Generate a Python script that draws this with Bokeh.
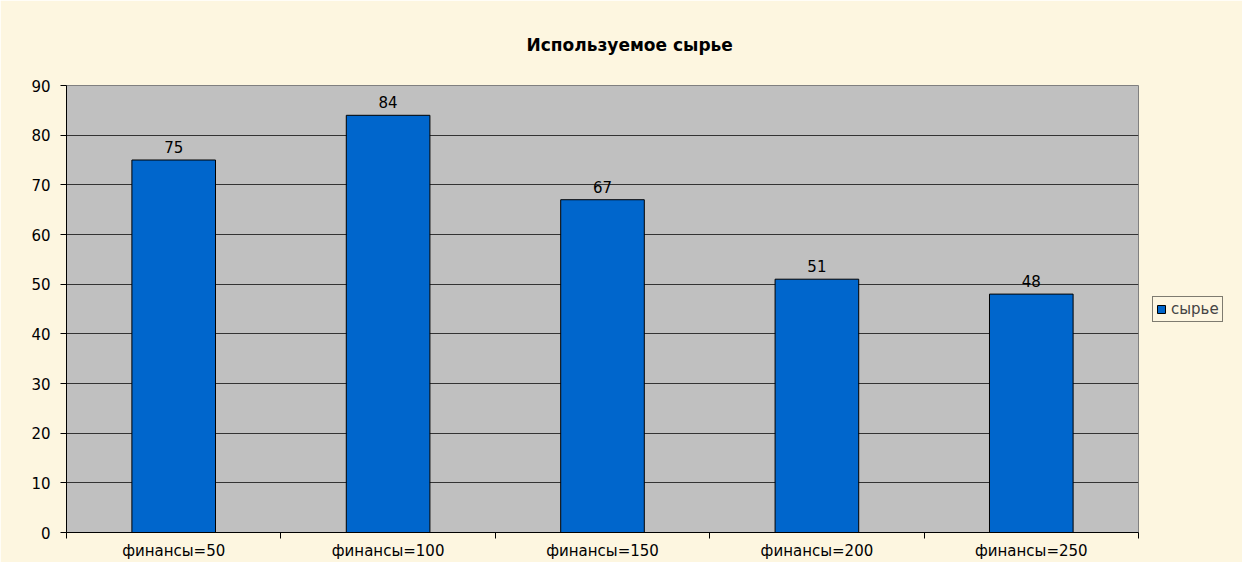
from bokeh.plotting import figure
from bokeh.models import ColumnDataSource, LabelSet, Legend, LegendItem, FixedTicker, Range1d
from bokeh.core.properties import value
from bokeh.embed import file_html
from bokeh.resources import INLINE

categories = ["финансы=50", "финансы=100", "финансы=150", "финансы=200", "финансы=250"]
values = [75, 84, 67, 51, 48]
series_name = "сырье"
title_text = "Используемое сырье"
y_ticks = [0, 10, 20, 30, 40, 50, 60, 70, 80, 90]

xs = [i + 0.5 for i in range(len(categories))]
src = ColumnDataSource(dict(x=xs, top=values, lab=[str(v) for v in values]))

CREAM = "#FDF6E0"
FONT = "DejaVu Sans"
FS = "15px"

p = figure(frame_width=1072, frame_height=447, output_backend="svg", toolbar_location=None,
           x_range=Range1d(0, len(categories)), y_range=Range1d(0, 90),
           background_fill_color="#C0C0C0", border_fill_color=CREAM,
           min_border_left=66, min_border_right=102, min_border_top=85, min_border_bottom=30)

p.title.text = title_text
p.title.align = "left"
p.title.offset = 460
p.title.text_font = FONT
p.title.text_font_size = "17px"
p.title.text_font_style = "bold"
p.title.text_color = "black"
p.title.standoff = 62

r = p.vbar(x="x", top="top", width=0.39, source=src, fill_color="#0066CC", line_color="black", line_width=1)

labels = LabelSet(x="x", y="top", text="lab", source=src, y_offset=7, text_align="center",
                  text_baseline="bottom", text_font=value(FONT), text_font_size=FS, text_color="black")
p.add_layout(labels)

# axes
p.xaxis.ticker = FixedTicker(ticks=xs, minor_ticks=list(range(len(categories) + 1)))
p.xaxis.major_label_overrides = {x: c for x, c in zip(xs, categories)}
p.xaxis.major_tick_line_color = None
p.xaxis.major_tick_out = 6
p.xaxis.minor_tick_in = 0
p.xaxis.minor_tick_out = 6
p.xaxis.minor_tick_line_color = "black"
p.xaxis.major_label_standoff = 3
p.xaxis.major_label_text_font = FONT
p.xaxis.major_label_text_font_size = FS
p.xaxis.major_label_text_color = "black"
p.xaxis.axis_line_color = "black"

p.yaxis.ticker = FixedTicker(ticks=y_ticks)
p.yaxis.major_tick_in = 0
p.yaxis.major_tick_out = 6
p.yaxis.minor_tick_line_color = None
p.yaxis.major_label_standoff = 10
p.yaxis.major_label_text_font = FONT
p.yaxis.major_label_text_font_size = FS
p.yaxis.major_label_text_color = "black"
p.yaxis.axis_line_color = "black"

p.xgrid.grid_line_color = None
p.ygrid.grid_line_color = "#333333"
p.ygrid.grid_line_width = 1
p.outline_line_color = "#808080"

legend = Legend(items=[LegendItem(label=series_name, renderers=[r])], location="center_left",
                background_fill_color=CREAM, border_line_color="black", border_line_width=1,
                label_text_font=FONT, label_text_font_size=FS, glyph_width=10, glyph_height=10,
                padding=3, margin=14, label_standoff=5, label_height=14, spacing=0)
p.add_layout(legend, "right")

open("out.html", "w").write(file_html(p, INLINE))
